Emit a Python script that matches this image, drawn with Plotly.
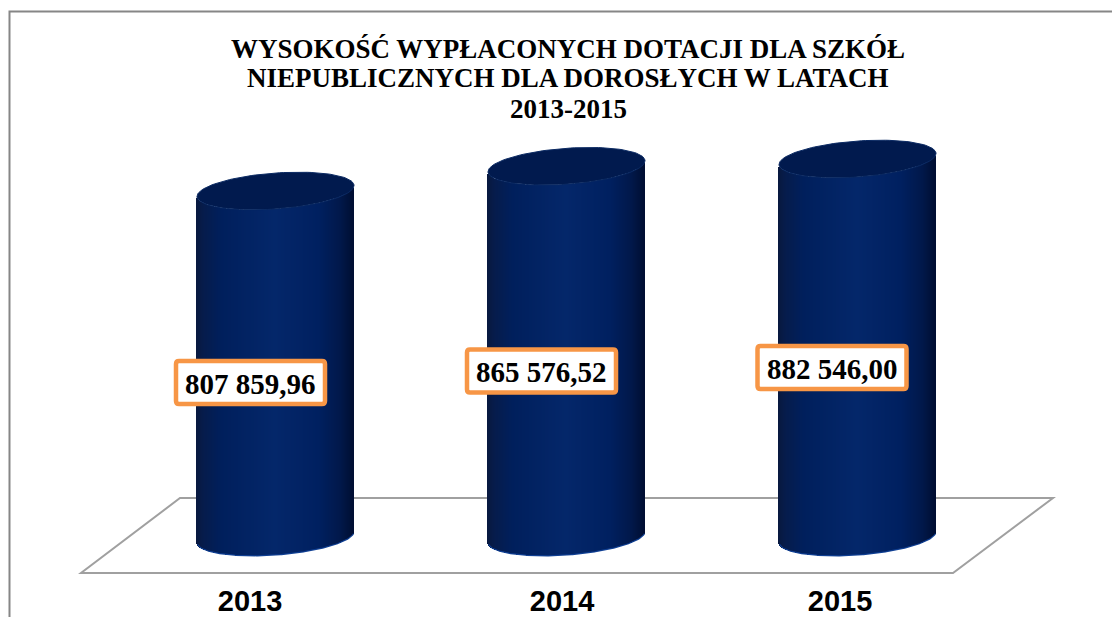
import numpy as np
import plotly.graph_objects as go

years = ["2013", "2014", "2015"]
values = [807859.96, 865576.52, 882546.00]
value_labels = ["807 859,96", "865 576,52", "882 546,00"]
title_lines = ["WYSOKOŚĆ WYPŁACONYCH DOTACJI DLA SZKÓŁ",
               "NIEPUBLICZNYCH DLA DOROSŁYCH W LATACH",
               "2013-2015"]

W, H = 1112, 617
PLOT_B = 581            # pixel row of the category axis
X0, X_STEP = 275.5, 291 # pixel centre of first bar, bar spacing
Y0 = 537                # pixel row of value 0
PPU = 346 / values[0]   # pixels per unit

def dx(px): return (px - X0) / X_STEP
def dy(py): return (Y0 - py) / PPU

RX, RY, TILT = 78.5, 18.0, 5.5   # cylinder cap shape, pixels
STOPS = [(0.0, (8, 24, 62)), (0.05, (6, 28, 76)), (0.16, (0, 31, 92)), (0.5, (4, 39, 106)),
         (0.78, (0, 32, 96)), (0.92, (1, 24, 74)), (1.0, (0, 14, 50))]

def ramp(f):
    xs = [s[0] for s in STOPS]
    return "rgb(%d,%d,%d)" % tuple(int(round(np.interp(f, xs, [s[1][i] for s in STOPS]))) for i in range(3))

fig = go.Figure()

for i, v in enumerate(values):
    offs = np.arange(-RX + 0.5, RX, 1.0)
    u = offs / RX
    arc = RY * np.sqrt(1 - u ** 2) - TILT * u   # pixels below the cap centre, front side
    base = -arc / PPU
    top = v - arc / PPU
    fig.add_trace(go.Bar(
        x=i + offs / X_STEP, y=top - base, base=base, width=1.25 / X_STEP,
        marker=dict(color=[ramp((o + RX) / (2 * RX)) for o in offs], line=dict(width=0)),
        hoverinfo="skip", showlegend=False))
    # lit rim along the foot of the cylinder
    fig.add_trace(go.Scatter(
        x=i + offs / X_STEP, y=base, mode="lines", line=dict(color="#0f3f93", width=1.2),
        hoverinfo="skip", showlegend=False))
    # top cap
    t = np.linspace(0, 2 * np.pi, 121)
    cx = RX * np.cos(t)
    cy = RY * np.sin(t) - TILT * np.cos(t)
    fig.add_trace(go.Scatter(
        x=i + cx / X_STEP, y=v - cy / PPU, mode="lines", fill="toself",
        fillcolor="#011a4e", line=dict(color="#0b2a63", width=1),
        hoverinfo="skip", showlegend=False))

# floor plane
floor = [(180, 498), (1053, 498), (953, 573), (81, 573)]
floor_path = "M " + " L ".join(f"{dx(a):.5f},{dy(b):.1f}" for a, b in floor) + " Z"
shapes = [dict(type="path", xref="x", yref="y", path=floor_path, layer="below",
               line=dict(color="#a0a0a0", width=2))]

# outer chart frame (left and top edges are in view); paper refs are not clipped
frame = [(9.5, H + 5), (9.5, 11.5), (W + 5, 11.5)]
shapes.append(dict(type="path", xref="paper", yref="paper",
                   path="M " + " L ".join(f"{a / W:.5f},{1 - b / PLOT_B:.5f}" for a, b in frame),
                   layer="below", line=dict(color="#868686", width=2)))

annotations = []
# title, one annotation per line so the line pitch can follow the reference
for line, py in zip(title_lines, [49, 77.5, 109.5]):
    annotations.append(dict(x=568 / W, y=1 - py / PLOT_B, xref="paper", yref="paper",
                            text=f"<b>{line}</b>", showarrow=False, xanchor="center",
                            yanchor="middle",
                            font=dict(family="Liberation Serif", size=27, color="black")))

# data label boxes (centre pixel, half sizes)
label_centres = [(250.5, 382.5), (541.5, 371), (832, 367.5)]
HW, HH, R = 74.5, 21.5, 3
for (cx, cy), txt in zip(label_centres, value_labels):
    l, r, t, b = cx - HW, cx + HW, cy - HH, cy + HH
    p = lambda a, c: f"{dx(a):.5f},{dy(c):.1f}"
    path = (f"M {p(l + R, t)} L {p(r - R, t)} Q {p(r, t)} {p(r, t + R)} L {p(r, b - R)} "
            f"Q {p(r, b)} {p(r - R, b)} L {p(l + R, b)} Q {p(l, b)} {p(l, b - R)} "
            f"L {p(l, t + R)} Q {p(l, t)} {p(l + R, t)} Z")
    shapes.append(dict(type="path", xref="x", yref="y", path=path, fillcolor="white",
                       line=dict(color="#F79646", width=4.5), layer="above"))
    annotations.append(dict(x=dx(cx), y=dy(cy + 1), xref="x", yref="y", text=f"<b>{txt}</b>",
                            showarrow=False, xanchor="center", yanchor="middle",
                            font=dict(family="Liberation Serif", size=29, color="black")))

fig.update_layout(
    width=W, height=H, autosize=False,
    margin=dict(l=0, r=0, t=0, b=H - PLOT_B, pad=0, autoexpand=False),
    paper_bgcolor="white", plot_bgcolor="rgba(0,0,0,0)",
    barmode="overlay", bargap=0, showlegend=False,
    xaxis=dict(range=[dx(0), dx(W)], tickmode="array", automargin=False,
               tickvals=[dx(250), dx(562), dx(840)], ticktext=years,
               tickfont=dict(family="Liberation Sans", size=29, color="black", weight="bold"),
               ticks="", showgrid=False, zeroline=False, showline=False, fixedrange=True),
    yaxis=dict(range=[dy(PLOT_B), dy(0)], visible=False, showgrid=False, automargin=False,
               zeroline=False, fixedrange=True),
    shapes=shapes, annotations=annotations,
)

fig.write_html("out.html", config=dict(displayModeBar=False),
               post_script="document.body.style.margin='0';document.documentElement.style.overflow='hidden';")
